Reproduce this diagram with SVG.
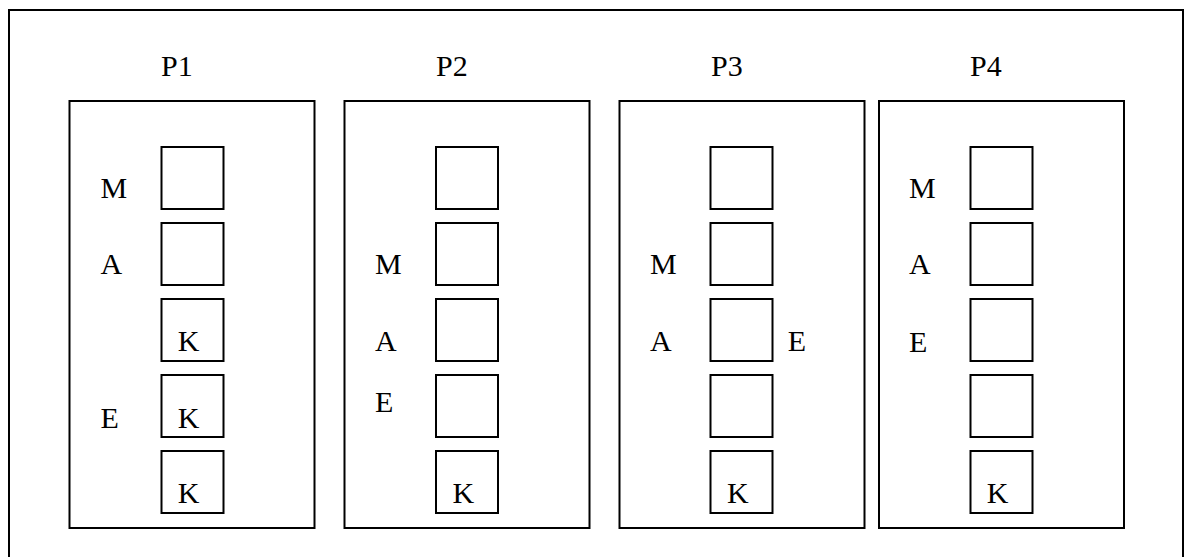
<svg xmlns="http://www.w3.org/2000/svg" width="1184" height="557" viewBox="0 0 1184 557">
<style>
rect{fill:none;stroke:#000;stroke-width:2}
text{font-family:"Liberation Serif","Times New Roman",serif;font-size:30px;fill:#000}
</style>
<rect width="1184" height="557" style="fill:#fff;stroke:none"/>
<rect id="frame" x="9" y="10" width="1174" height="600"/>
<g id="P1">
<text x="161" y="76">P1</text>
<rect x="69.5" y="101" width="245" height="427"/>
<rect x="161.5" y="147" width="62" height="62"/>
<rect x="161.5" y="223" width="62" height="62"/>
<rect x="161.5" y="299" width="62" height="62"/>
<rect x="161.5" y="375" width="62" height="62"/>
<rect x="161.5" y="451" width="62" height="62"/>
<text x="100.5" y="198">M</text>
<text x="100.5" y="274">A</text>
<text x="177.7" y="351">K</text>
<text x="100.5" y="427.5">E</text>
<text x="177.7" y="427.5">K</text>
<text x="177.7" y="503">K</text>
</g>
<g id="P2">
<text x="436" y="76">P2</text>
<rect x="344.5" y="101" width="245" height="427"/>
<rect x="436" y="147" width="62" height="62"/>
<rect x="436" y="223" width="62" height="62"/>
<rect x="436" y="299" width="62" height="62"/>
<rect x="436" y="375" width="62" height="62"/>
<rect x="436" y="451" width="62" height="62"/>
<text x="375" y="274">M</text>
<text x="375" y="351">A</text>
<text x="375" y="412">E</text>
<text x="452.5" y="503">K</text>
</g>
<g id="P3">
<text x="711" y="76">P3</text>
<rect x="619.5" y="101" width="245" height="427"/>
<rect x="710.5" y="147" width="62" height="62"/>
<rect x="710.5" y="223" width="62" height="62"/>
<rect x="710.5" y="299" width="62" height="62"/>
<rect x="710.5" y="375" width="62" height="62"/>
<rect x="710.5" y="451" width="62" height="62"/>
<text x="650" y="274">M</text>
<text x="650" y="351">A</text>
<text x="787.7" y="351">E</text>
<text x="727" y="503">K</text>
</g>
<g id="P4">
<text x="970" y="76">P4</text>
<rect x="879" y="101" width="245" height="427"/>
<rect x="970.5" y="147" width="62" height="62"/>
<rect x="970.5" y="223" width="62" height="62"/>
<rect x="970.5" y="299" width="62" height="62"/>
<rect x="970.5" y="375" width="62" height="62"/>
<rect x="970.5" y="451" width="62" height="62"/>
<text x="909" y="197.5">M</text>
<text x="909" y="274">A</text>
<text x="909" y="351.5">E</text>
<text x="986.7" y="503">K</text>
</g>
<g id="connectors"/>
</svg>
